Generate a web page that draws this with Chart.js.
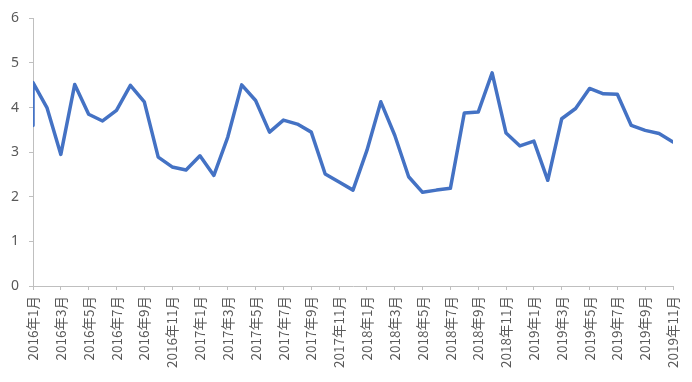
<!DOCTYPE html>
<html>
<head>
<meta charset="utf-8">
<script src="https://cdn.jsdelivr.net/npm/chart.js@4"></script>
<style>
    html, body { margin: 0; padding: 0; background: #fff; }
    canvas { display: block; }
</style>
</head>
<body>
<canvas id="grafico" width="692" height="382"></canvas>
<script>
// Meses de cada dato (enero 2016 aparece dos veces en la serie original)
const meses = [
    '2016年1月', '2016年1月', '2016年2月', '2016年3月', '2016年4月', '2016年5月', '2016年6月',
    '2016年7月', '2016年8月', '2016年9月', '2016年10月', '2016年11月', '2016年12月',
    '2017年1月', '2017年2月', '2017年3月', '2017年4月', '2017年5月', '2017年6月',
    '2017年7月', '2017年8月', '2017年9月', '2017年10月', '2017年11月', '2017年12月',
    '2018年1月', '2018年2月', '2018年3月', '2018年4月', '2018年5月', '2018年6月',
    '2018年7月', '2018年8月', '2018年9月', '2018年10月', '2018年11月', '2018年12月',
    '2019年1月', '2019年2月', '2019年3月', '2019年4月', '2019年5月', '2019年6月',
    '2019年7月', '2019年8月', '2019年9月', '2019年10月', '2019年11月'
];

const valores = [
    3.60, 4.56, 4.00, 2.95, 4.52, 3.85, 3.70,
    3.94, 4.50, 4.13, 2.89, 2.67, 2.60,
    2.92, 2.48, 3.34, 4.51, 4.16, 3.45,
    3.72, 3.63, 3.45, 2.51, 2.33, 2.15,
    3.04, 4.13, 3.38, 2.45, 2.10, 2.15,
    2.19, 3.88, 3.90, 4.78, 3.43, 3.14,
    3.25, 2.37, 3.75, 3.98, 4.43, 4.31,
    4.30, 3.60, 3.49, 3.42, 3.23
];

const etiquetasX = [
    '2016年1月', '2016年3月', '2016年5月', '2016年7月', '2016年9月', '2016年11月',
    '2017年1月', '2017年3月', '2017年5月', '2017年7月', '2017年9月', '2017年11月',
    '2018年1月', '2018年3月', '2018年5月', '2018年7月', '2018年9月', '2018年11月',
    '2019年1月', '2019年3月', '2019年5月', '2019年7月', '2019年9月', '2019年11月'
];

const valoresY = [0, 1, 2, 3, 4, 5, 6];

// posición del mes contada desde enero 2016
const indiceMes = txt => {
    const m = txt.match(/(\d{4})年(\d+)月/);
    return (parseInt(m[1]) - 2016) * 12 + parseInt(m[2]) - 1;
};

const puntos = valores.map((v, i) => ({ x: indiceMes(meses[i]), y: v }));
const ultimo = indiceMes(meses[meses.length - 1]);

const colorEje = '#bfbfbf';
const colorTexto = '#595959';

new Chart(document.getElementById('grafico'), {
    type: 'line',
    data: {
        datasets: [{
            data: puntos,
            borderColor: '#4472c4',
            borderWidth: 3.5,
            pointRadius: 0,
            tension: 0,
            borderJoinStyle: 'round',
            borderCapStyle: 'round'
        }]
    },
    options: {
        responsive: false,
        animation: false,
        devicePixelRatio: 1,
        layout: { padding: { top: 18, right: 19, left: 0, bottom: 0 } },
        plugins: {
            legend: { display: false },
            tooltip: { enabled: false }
        },
        scales: {
            x: {
                type: 'linear',
                min: 0,
                max: ultimo,
                afterFit: s => {
                    s.height = 96;
                    s.paddingLeft = 0;
                    s.paddingRight = 0;
                },
                afterBuildTicks: s => {
                    s.ticks = etiquetasX.map(t => ({ value: indiceMes(t) }));
                },
                border: { color: colorEje, dash: [1, 1], width: 1 },
                grid: { drawOnChartArea: false, drawTicks: true, tickLength: 4, color: colorEje },
                ticks: {
                    autoSkip: false,
                    minRotation: 90,
                    maxRotation: 90,
                    padding: 6,
                    color: colorTexto,
                    font: { family: '"Noto Sans CJK SC", "Noto Sans", sans-serif', size: 13.5 },
                    callback: v => etiquetasX.find(t => indiceMes(t) === v) || ''
                }
            },
            y: {
                min: valoresY[0],
                max: valoresY[valoresY.length - 1],
                afterFit: s => { s.width = 33; },
                afterBuildTicks: s => {
                    s.ticks = valoresY.map(v => ({ value: v }));
                },
                border: { color: colorEje, dash: [1, 1], width: 1 },
                grid: { drawOnChartArea: false, drawTicks: true, tickLength: 4, color: colorEje },
                ticks: {
                    padding: 10,
                    color: colorTexto,
                    font: { family: '"Noto Sans", sans-serif', size: 14 }
                }
            }
        }
    }
});
</script>
</body>
</html>
